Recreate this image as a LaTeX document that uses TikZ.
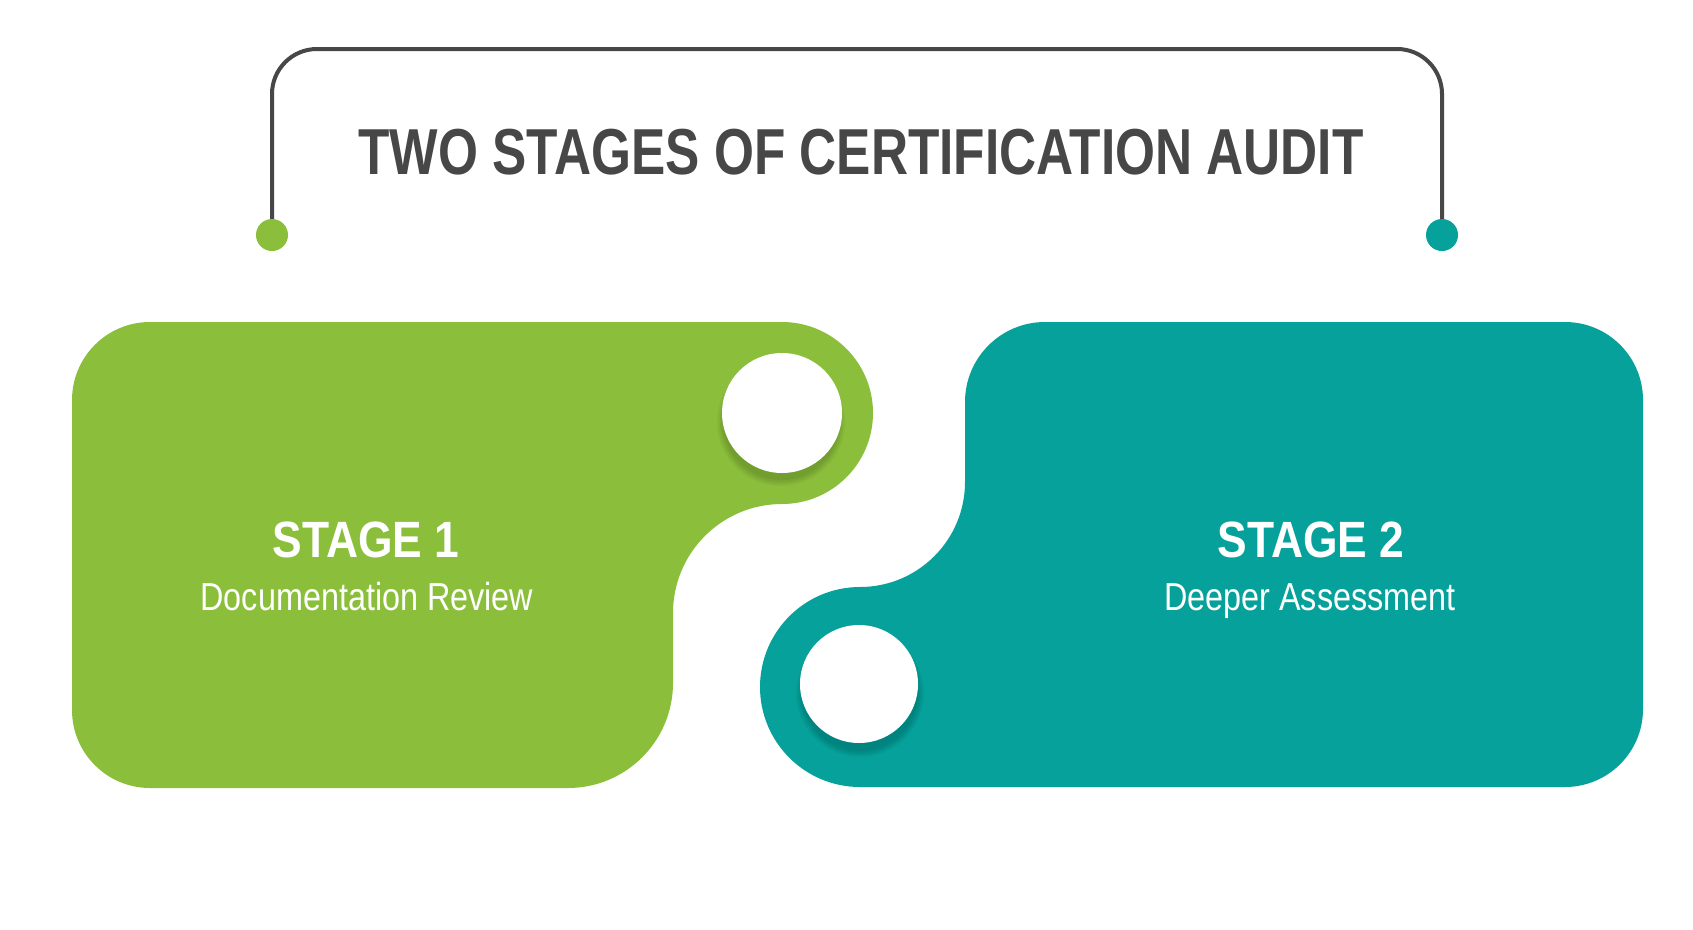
\documentclass[tikz,border=0pt]{standalone}
\usepackage{fontspec}
\setmainfont{Liberation Sans}
\newfontfamily\titlefont{Liberation Sans}[FakeStretch=0.79]
\newfontfamily\stagefont{Liberation Sans}[FakeStretch=0.87]
\newfontfamily\subfont{Liberation Sans}[FakeStretch=0.83]
\definecolor{sgreen}{HTML}{8BBF3B}
\definecolor{steal}{HTML}{06A19B}
\definecolor{sgray}{HTML}{474747}
\tikzset{
  titletext/.style={anchor=base, text=sgray, font=\titlefont\bfseries\fontsize{65}{70}\selectfont, inner sep=0pt},
  stagetext/.style={anchor=base, text=white, font=\stagefont\bfseries\fontsize{51}{56}\selectfont, inner sep=0pt},
  subtext/.style={anchor=base, text=white, font=\subfont\fontsize{39}{44}\selectfont, inner sep=0pt},
  hole/.style={circle, fill=white, minimum size=120pt, inner sep=0pt},
  enddot/.style={circle, minimum size=32pt, inner sep=0pt},
  bracketline/.style={draw=sgray, line width=4pt, rounded corners=45pt},
  holeshadow/.style={fill=black, opacity=0.035}
}
\begin{document}
\begin{tikzpicture}[x=1pt,y=-1pt]
\useasboundingbox[fill=white] (0,0) rectangle (1693,929);

% bracket and dots
\node[enddot] (dotL) at (272,235) {};
\node[enddot] (dotR) at (1442,235) {};
\draw[bracketline] (dotL.center) -- (272,49) -- (1442,49) -- (dotR.center);
\node[enddot, fill=sgreen] at (dotL) {};
\node[enddot, fill=steal] at (dotR) {};

\node[titletext] (title) at (861,174) {TWO STAGES OF CERTIFICATION AUDIT};

% green shape
\fill[sgreen] (150,322) -- (782,322)
  arc[start angle=90, end angle=-90, radius=91pt]
  arc[start angle=90, end angle=180, radius=109pt]
  -- (673,683)
  arc[start angle=0, end angle=-90, radius=105pt]
  -- (150,788)
  arc[start angle=-90, end angle=-180, radius=78pt]
  -- (72,400)
  arc[start angle=180, end angle=90, radius=78pt]
  -- cycle;

% teal shape
\fill[steal] (1045,322) -- (1565,322)
  arc[start angle=90, end angle=0, radius=78pt]
  -- (1643,709)
  arc[start angle=0, end angle=-90, radius=78pt]
  -- (860,787)
  arc[start angle=-90, end angle=-270, radius=100pt]
  arc[start angle=-90, end angle=0, radius=105pt]
  -- (965,402)
  arc[start angle=180, end angle=90, radius=80pt]
  -- cycle;

% hole shadows (soft, mostly below)
\foreach \r in {58,59.5,61,62.5,64} {
  \fill[holeshadow] (781,422) circle[radius=\r pt];
  \fill[holeshadow] (860,693) circle[radius=\r pt];
}

\node[hole] (hole1) at (782,413) {};
\node[hole, minimum size=118pt] (hole2) at (859,684) {};

% texts
\node[stagetext] (s1) at (366,557) {STAGE 1};
\node[subtext] (s1sub) at (367,610) {Documentation Review};
\node[stagetext] (s2) at (1311,557) {STAGE 2};
\node[subtext] (s2sub) at (1310,610) {Deeper Assessment};
\end{tikzpicture}
\end{document}
